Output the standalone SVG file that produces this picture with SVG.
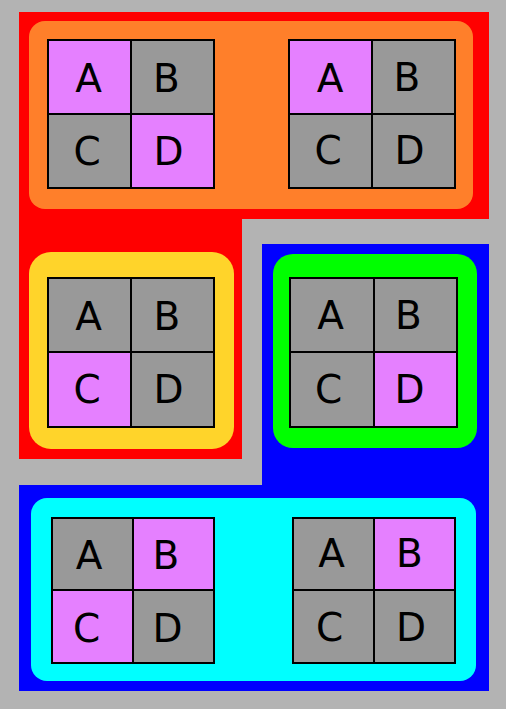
<svg xmlns="http://www.w3.org/2000/svg" width="506" height="709" viewBox="0 0 506 709">
<style>
.m{fill:#e580ff;stroke:#000;stroke-width:2}
.g{fill:#999999;stroke:#000;stroke-width:2}
text{font-family:"DejaVu Sans","Liberation Sans",sans-serif;font-size:39px;fill:#000;text-anchor:middle}
</style>
<rect x="0" y="0" width="506" height="709" fill="#b3b3b3"/>
<g id="cluster_red">
<polygon points="19,12 489,12 489,219 242,219 242,459 19,459" fill="#ff0000"/>
</g>
<g id="cluster_blue">
<polygon points="262,244 489,244 489,691 19,691 19,485 262,485" fill="#0000ff"/>
</g>
<g id="cluster_orange"><rect x="29" y="21" width="444" height="188" rx="16" fill="#ff7f2a"/></g>
<g id="cluster_yellow"><rect x="29" y="252" width="205" height="197" rx="22" fill="#ffd42a"/></g>
<g id="cluster_green"><rect x="273" y="254" width="204" height="194" rx="20" fill="#00ff00"/></g>
<g id="cluster_cyan"><rect x="31" y="498" width="445" height="183" rx="16" fill="#00ffff"/></g>
<g id="node1">
<rect class="m" x="48" y="40" width="83" height="74"/><rect class="g" x="131" y="40" width="83" height="74"/>
<rect class="g" x="48" y="114" width="83" height="74"/><rect class="m" x="131" y="114" width="83" height="74"/>
<text x="88.5" y="92">A</text><text x="166.5" y="92">B</text>
<text x="87" y="165">C</text><text x="168.5" y="165">D</text>
</g>
<g id="node2">
<rect class="m" x="289" y="40" width="83" height="74"/><rect class="g" x="372" y="40" width="83" height="74"/>
<rect class="g" x="289" y="114" width="83" height="74"/><rect class="g" x="372" y="114" width="83" height="74"/>
<text x="330" y="92">A</text><text x="407" y="91">B</text>
<text x="328" y="164">C</text><text x="409.5" y="164">D</text>
</g>
<g id="node3">
<rect class="g" x="48" y="278" width="83" height="74"/><rect class="g" x="131" y="278" width="83" height="74"/>
<rect class="m" x="48" y="352" width="83" height="75"/><rect class="g" x="131" y="352" width="83" height="75"/>
<text x="88.5" y="330">A</text><text x="167" y="330">B</text>
<text x="87" y="403">C</text><text x="168.5" y="403">D</text>
</g>
<g id="node4">
<rect class="g" x="290" y="278" width="84" height="74"/><rect class="g" x="374" y="278" width="83" height="74"/>
<rect class="g" x="290" y="352" width="84" height="75"/><rect class="m" x="374" y="352" width="83" height="75"/>
<text x="330.5" y="329">A</text><text x="408.5" y="329">B</text>
<text x="328.5" y="403">C</text><text x="409.5" y="403">D</text>
</g>
<g id="node5">
<rect class="g" x="52" y="518" width="81" height="72"/><rect class="m" x="133" y="518" width="81" height="72"/>
<rect class="m" x="52" y="590" width="81" height="73"/><rect class="g" x="133" y="590" width="81" height="73"/>
<text x="89" y="569">A</text><text x="166" y="569">B</text>
<text x="86.5" y="642">C</text><text x="167.5" y="642">D</text>
</g>
<g id="node6">
<rect class="g" x="293" y="518" width="81" height="72"/><rect class="m" x="374" y="518" width="81" height="72"/>
<rect class="g" x="293" y="590" width="81" height="73"/><rect class="g" x="374" y="590" width="81" height="73"/>
<text x="331.5" y="566.5">A</text><text x="409.5" y="566.5">B</text>
<text x="329.5" y="640.5">C</text><text x="411" y="640.5">D</text>
</g>
<g id="connectors"/>
</svg>
